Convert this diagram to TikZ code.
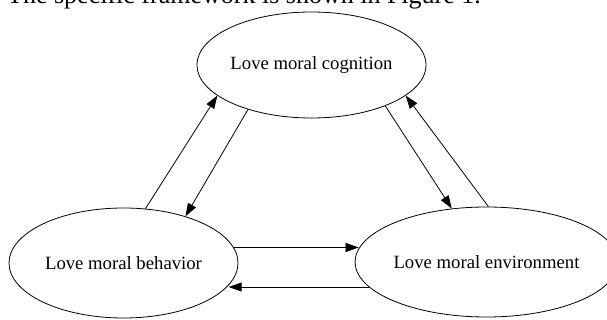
\documentclass[tikz,border=0pt]{standalone}
\usepackage{fontspec}
\setmainfont{Liberation Serif}
\usetikzlibrary{shapes.geometric,arrows.meta}
\begin{document}
\begin{tikzpicture}[x=1pt,y=-1pt,main/.style={draw,ellipse,inner sep=0pt,line width=0.8pt,font=\fontsize{18.7}{22}\selectfont},arr/.style={-{Triangle[length=13pt,width=9pt]},line width=0.8pt}]
                \useasboundingbox(0,0) rectangle (607,320);
                \clip(0,0) rectangle (607,320);
                \node[anchor=base west,inner sep=0pt,font=\fontsize{26}{30}\selectfont](txt) at (7,4){The specific framework is shown in Figure 1.};
                \node[main,minimum width=223pt,minimum height=106pt](cog) at (311.5,65){Love moral cognition};
                \node[main,minimum width=229pt,minimum height=110pt](beh) at (123.5,263){Love moral behavior};
                \node[main,minimum width=237pt,minimum height=110pt](env) at (486.5,262){Love moral environment};
                \draw[arr](beh.68) -- (cog.198);
                \draw[arr](cog.215) -- (beh.37);
                \draw[arr](cog.331) -- (env.123);
                \draw[arr](env.88) -- (cog.342);
                \draw[arr](beh.8) -- (beh.8 -| env.174);
                \draw[arr](env.192) -- (env.192 -| beh.-12);
            \end{tikzpicture}
\end{document}
